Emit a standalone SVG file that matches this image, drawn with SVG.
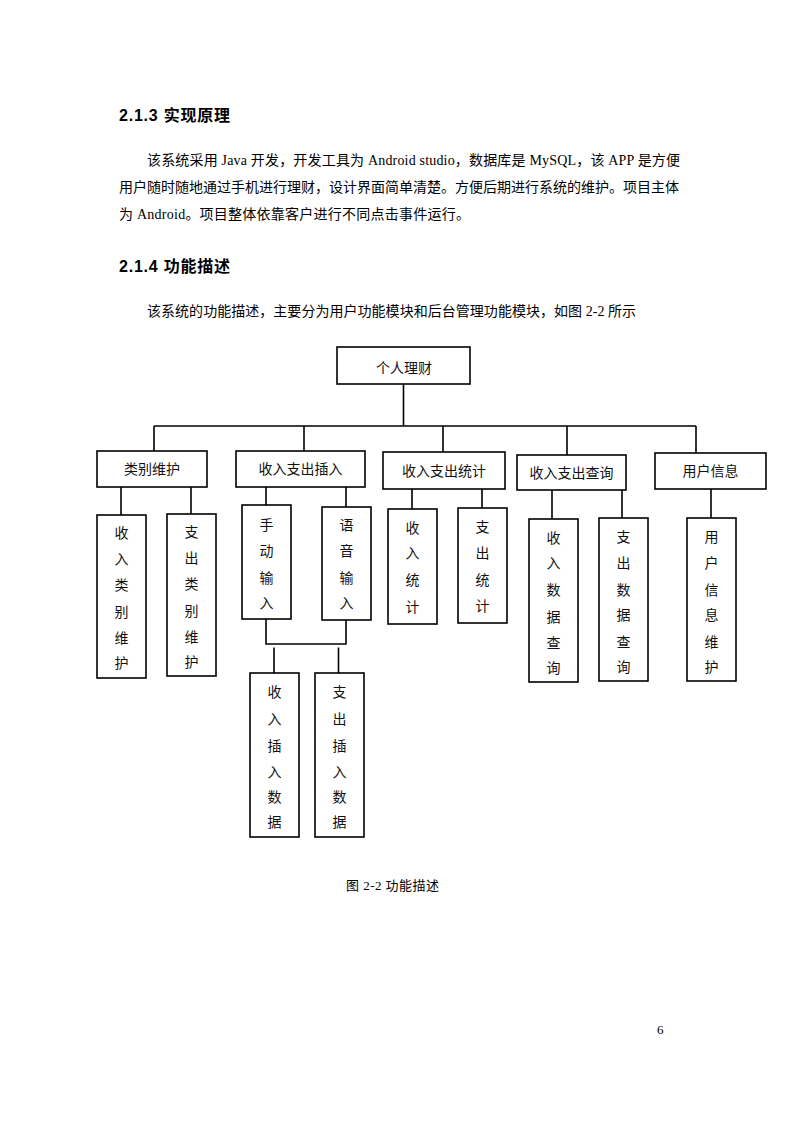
<svg xmlns="http://www.w3.org/2000/svg" width="794" height="1123" viewBox="0 0 794 1123">
<style>
.bg{fill:#fff}
.h{font-family:"Liberation Sans","Noto Sans CJK SC",sans-serif;font-size:16px;font-weight:bold;fill:#000}
.p{font-family:"Liberation Serif","Noto Sans CJK SC",serif;font-size:14px;fill:#000}
.box{fill:#fff;stroke:#000;stroke-width:1.6}
.t{font-family:"Noto Sans CJK SC",sans-serif;font-size:14px;fill:#111;text-anchor:middle}
.v{font-family:"Noto Sans CJK SC",sans-serif;font-size:14px;fill:#111;text-anchor:middle}
.ln{fill:none;stroke:#000;stroke-width:1.6}
.cap{font-family:"Liberation Serif","Noto Sans CJK SC",serif;font-size:13px;fill:#000}
</style>
<rect class="bg" x="0" y="0" width="794" height="1123"/>

<g id="page-text">
<text class="h" x="119" y="121" textLength="111" lengthAdjust="spacing">2.1.3 实现原理</text>
<text class="p" x="147" y="165" textLength="533" lengthAdjust="spacing">该系统采用 Java 开发，开发工具为 Android studio，数据库是 MySQL，该 APP 是方便</text>
<text class="p" x="119" y="192" textLength="560" lengthAdjust="spacing">用户随时随地通过手机进行理财，设计界面简单清楚。方便后期进行系统的维护。项目主体</text>
<text class="p" x="119" y="219" textLength="351" lengthAdjust="spacing">为 Android。项目整体依靠客户进行不同点击事件运行。</text>
<text class="h" x="119" y="272" textLength="111" lengthAdjust="spacing">2.1.4 功能描述</text>
<text class="p" x="147" y="316" textLength="489" lengthAdjust="spacing">该系统的功能描述，主要分为用户功能模块和后台管理功能模块，如图 2-2 所示</text>
<text class="cap" x="346" y="890" textLength="93" lengthAdjust="spacing">图 2-2 功能描述</text>
<text class="cap" x="657" y="1034" font-size="12">6</text>
</g>

<g id="connectors">
<path class="ln" d="M403.5 384 V426 M154 426 H696 M154 426 V451 M304 426 V451 M443 426 V452 M567 426 V455 M696 426 V453"/>
<path class="ln" d="M121 487 V515 M191 487 V514 M266 487 V505 M346 487 V507 M412 489 V509 M482 489 V508 M552 490 V519 M622 490 V518 M711 489 V518"/>
<path class="ln" d="M266 619 V644 H346 V620 M274 647.5 V673 M338.5 647.5 V673"/>
</g>

<g id="n-root"><rect class="box" x="337" y="347" width="133" height="37"/><text class="t" x="404" y="373">个人理财</text></g>

<g id="n-lbwh"><rect class="box" x="97" y="451" width="110" height="36"/><text class="t" x="152" y="474">类别维护</text></g>
<g id="n-srzccr"><rect class="box" x="236" y="451" width="129" height="36"/><text class="t" x="300.5" y="474">收入支出插入</text></g>
<g id="n-srzctj"><rect class="box" x="383" y="452" width="122" height="37"/><text class="t" x="444" y="475.5">收入支出统计</text></g>
<g id="n-srzccx"><rect class="box" x="517" y="455" width="109" height="35"/><text class="t" x="571.5" y="477.5">收入支出查询</text></g>
<g id="n-yhxx"><rect class="box" x="655" y="453" width="111" height="36"/><text class="t" x="710.5" y="476">用户信息</text></g>

<g id="n-srlbwh"><rect class="box" x="97" y="515" width="49" height="163"/>
<text class="v" x="121.5"><tspan x="121.5" y="538">收</tspan><tspan x="121.5" y="564">入</tspan><tspan x="121.5" y="590">类</tspan><tspan x="121.5" y="617">别</tspan><tspan x="121.5" y="643">维</tspan><tspan x="121.5" y="668">护</tspan></text></g>
<g id="n-zclbwh"><rect class="box" x="167" y="514" width="49" height="162"/>
<text class="v" x="191.5"><tspan x="191.5" y="537">支</tspan><tspan x="191.5" y="563">出</tspan><tspan x="191.5" y="589">类</tspan><tspan x="191.5" y="616">别</tspan><tspan x="191.5" y="642">维</tspan><tspan x="191.5" y="667">护</tspan></text></g>

<g id="n-sdsr"><rect class="box" x="242" y="505" width="49" height="114"/>
<text class="v" x="266.5"><tspan x="266.5" y="530">手</tspan><tspan x="266.5" y="556">动</tspan><tspan x="266.5" y="583">输</tspan><tspan x="266.5" y="608">入</tspan></text></g>
<g id="n-yysr"><rect class="box" x="322" y="507" width="49" height="113"/>
<text class="v" x="346.5"><tspan x="346.5" y="530">语</tspan><tspan x="346.5" y="556">音</tspan><tspan x="346.5" y="583">输</tspan><tspan x="346.5" y="608">入</tspan></text></g>

<g id="n-srcrsj"><rect class="box" x="250" y="673" width="49" height="164"/>
<text class="v" x="274.5"><tspan x="274.5" y="697">收</tspan><tspan x="274.5" y="724">入</tspan><tspan x="274.5" y="751">插</tspan><tspan x="274.5" y="777">入</tspan><tspan x="274.5" y="802">数</tspan><tspan x="274.5" y="827">据</tspan></text></g>
<g id="n-zccrsj"><rect class="box" x="315" y="673" width="49" height="164"/>
<text class="v" x="339.5"><tspan x="339.5" y="697">支</tspan><tspan x="339.5" y="724">出</tspan><tspan x="339.5" y="751">插</tspan><tspan x="339.5" y="777">入</tspan><tspan x="339.5" y="802">数</tspan><tspan x="339.5" y="827">据</tspan></text></g>

<g id="n-srtj"><rect class="box" x="388" y="509" width="49" height="115"/>
<text class="v" x="412.5"><tspan x="412.5" y="533">收</tspan><tspan x="412.5" y="558">入</tspan><tspan x="412.5" y="585">统</tspan><tspan x="412.5" y="612">计</tspan></text></g>
<g id="n-zctj"><rect class="box" x="458" y="508" width="49" height="115"/>
<text class="v" x="482.5"><tspan x="482.5" y="532">支</tspan><tspan x="482.5" y="558">出</tspan><tspan x="482.5" y="585">统</tspan><tspan x="482.5" y="611">计</tspan></text></g>

<g id="n-srsjcx"><rect class="box" x="529" y="519" width="49" height="163"/>
<text class="v" x="553.5"><tspan x="553.5" y="543">收</tspan><tspan x="553.5" y="568">入</tspan><tspan x="553.5" y="595">数</tspan><tspan x="553.5" y="622">据</tspan><tspan x="553.5" y="648">查</tspan><tspan x="553.5" y="673">询</tspan></text></g>
<g id="n-zcsjcx"><rect class="box" x="599" y="518" width="49" height="163"/>
<text class="v" x="623.5"><tspan x="623.5" y="542">支</tspan><tspan x="623.5" y="568">出</tspan><tspan x="623.5" y="595">数</tspan><tspan x="623.5" y="620">据</tspan><tspan x="623.5" y="647">查</tspan><tspan x="623.5" y="672">询</tspan></text></g>

<g id="n-yhxxwh"><rect class="box" x="687" y="518" width="49" height="163"/>
<text class="v" x="711.5"><tspan x="711.5" y="542">用</tspan><tspan x="711.5" y="568">户</tspan><tspan x="711.5" y="595">信</tspan><tspan x="711.5" y="620">息</tspan><tspan x="711.5" y="647">维</tspan><tspan x="711.5" y="672">护</tspan></text></g>
</svg>
